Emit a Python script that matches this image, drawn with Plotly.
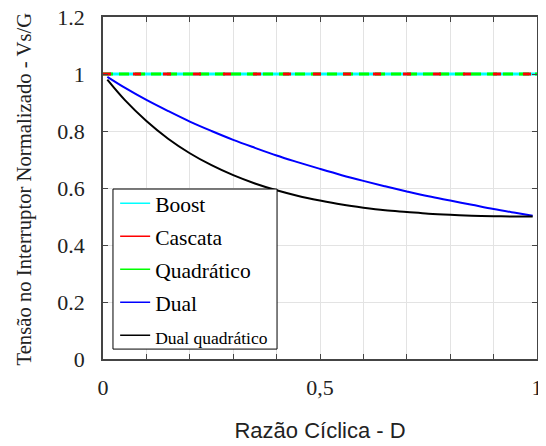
import plotly.graph_objects as go

# Data
D_flat = [0.0, 1.0]
boost = [1.0, 1.0]
cascata = [1.0, 1.0]
quadratico = [1.0, 1.0]

D = [0.01, 0.05, 0.1, 0.15, 0.2, 0.25, 0.3, 0.35, 0.4, 0.45, 0.5,
     0.55, 0.6, 0.65, 0.7, 0.75, 0.8, 0.85, 0.9, 0.95, 0.99]
dual = [0.990, 0.952, 0.909, 0.870, 0.833, 0.800, 0.769, 0.741, 0.714, 0.690, 0.667,
        0.645, 0.625, 0.606, 0.588, 0.571, 0.556, 0.541, 0.526, 0.513, 0.503]
dual_quad = [0.980, 0.909, 0.835, 0.773, 0.722, 0.680, 0.645, 0.616, 0.592, 0.572, 0.556,
             0.542, 0.531, 0.522, 0.516, 0.510, 0.506, 0.503, 0.501, 0.500, 0.500]

series_names = ["Boost", "Cascata", "Quadrático", "Dual",
                "<span style='font-size:17.5px'>Dual quadrático</span>"]
series_colors = ["#00ffff", "#ff0000", "#00ff00", "#0000ff", "#000000"]

x_tickvals = [0, 0.1, 0.2, 0.3, 0.4, 0.5, 0.6, 0.7, 0.8, 0.9, 1.0]
x_ticktext = ["0", "", "", "", "", "0,5", "", "", "", "", "1"]
y_tickvals = [0, 0.2, 0.4, 0.6, 0.8, 1.0, 1.2]
y_ticktext = ["0", "0.2", "0.4", "0.6", "0.8", "1", "1.2"]

x_title = "Razão Cíclica - D"
y_title = "Tensão no Interruptor Normalizado - Vs/G"

serif = "Liberation Serif, Times New Roman, serif"

fig = go.Figure()
# plotted curves
fig.add_trace(go.Scatter(x=D_flat, y=boost, mode="lines", showlegend=False,
                         line=dict(color=series_colors[0], width=3)))
fig.add_trace(go.Scatter(x=D_flat, y=quadratico, mode="lines", showlegend=False,
                         line=dict(color=series_colors[2], width=3, dash="10px,6px")))
fig.add_trace(go.Scatter(x=D_flat, y=cascata, mode="lines", showlegend=False,
                         line=dict(color=series_colors[1], width=3, dash="8px,22px")))
fig.add_trace(go.Scatter(x=D, y=dual, mode="lines", showlegend=False,
                         line=dict(color=series_colors[3], width=2, shape="spline")))
fig.add_trace(go.Scatter(x=D, y=dual_quad, mode="lines", showlegend=False,
                         line=dict(color=series_colors[4], width=2, shape="spline")))
# legend entries (thin solid lines as in the reference)
for i, (nm, col) in enumerate(zip(series_names, series_colors)):
    fig.add_trace(go.Scatter(x=[None], y=[None], mode="lines", name=nm,
                             line=dict(color=col, width=1.5), legendgroup=str(i)))

# legend frame (white box covering the curves)
fig.add_shape(type="rect", xref="paper", yref="paper",
              x0=0.023, x1=0.401, y0=0.029, y1=0.497,
              line=dict(color="#000000", width=1), fillcolor="white", layer="above")

# y-axis title as a rotated annotation
fig.add_annotation(text=y_title, xref="paper", yref="paper",
                   x=-0.182, y=0.4956, xanchor="center", yanchor="middle",
                   textangle=-90, showarrow=False,
                   font=dict(family=serif, size=20.7, color="#222222"))

fig.update_layout(
    width=546, height=446,
    margin=dict(l=95, r=17, t=9, b=95),
    plot_bgcolor="white", paper_bgcolor="white",
    font=dict(family=serif, size=17, color="#222222"),
    showlegend=True,
    legend=dict(x=0.028, y=0.515, xanchor="left", yanchor="top",
                bgcolor="rgba(0,0,0,0)", borderwidth=0,
                font=dict(family=serif, size=21.5, color="#000000"),
                tracegroupgap=2, traceorder="grouped"),
    xaxis=dict(range=[0, 1], tickvals=x_tickvals, ticktext=x_ticktext,
               showgrid=True, gridcolor="#e3e3e3", gridwidth=1,
               ticks="inside", ticklen=5, tickcolor="#444444",
               showline=True, linecolor="#444444", linewidth=1.5, mirror="ticks",
               zeroline=False, automargin=False, ticklabelstandoff=8,
               ticklabeloverflow="allow",
               tickfont=dict(family=serif, size=22),
               title=dict(text=x_title,
                          font=dict(family="Liberation Sans, Arial, sans-serif", size=22),
                          standoff=23)),
    yaxis=dict(range=[0, 1.2], tickvals=y_tickvals, ticktext=y_ticktext,
               showgrid=True, gridcolor="#e3e3e3", gridwidth=1,
               ticks="inside", ticklen=5, tickcolor="#444444",
               showline=True, linecolor="#444444", linewidth=1.5, mirror="ticks",
               zeroline=False, automargin=False, ticklabelstandoff=12,
               ticklabeloverflow="allow",
               tickfont=dict(family=serif, size=22)),
)

fig.write_html("out.html")
